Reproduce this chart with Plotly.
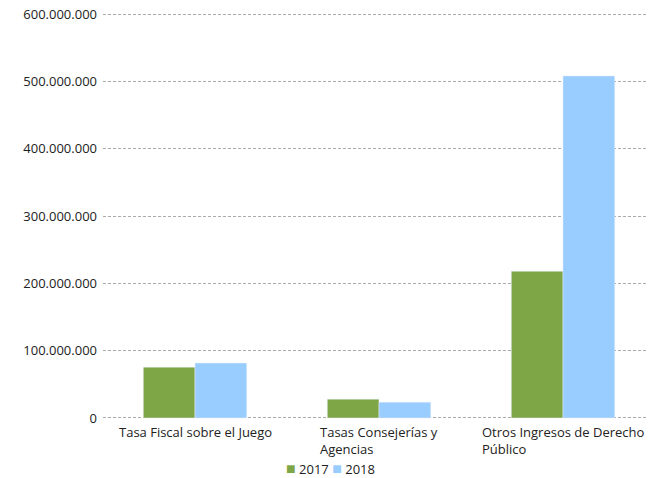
import plotly.graph_objects as go

# Categories and values
categories = ["Tasa Fiscal sobre el Juego", "Tasas Consejerías y Agencias", "Otros Ingresos de Derecho Público"]
category_labels = ["Tasa Fiscal sobre el Juego", "Tasas Consejerías y<br>Agencias", "Otros Ingresos de Derecho<br>Público"]
series_names = ["2017", "2018"]
series_colors = ["#7EA647", "#99CCFF"]
values_2017 = [75_500_000, 28_000_000, 218_000_000]
values_2018 = [81_500_000, 23_500_000, 508_000_000]
tick_vals = [0, 100_000_000, 200_000_000, 300_000_000, 400_000_000, 500_000_000, 600_000_000]
tick_text = ["0", "100.000.000", "200.000.000", "300.000.000", "400.000.000", "500.000.000", "600.000.000"]

font_family = "Open Sans, Lato, sans-serif"
text_color = "#222222"

fig = go.Figure()
for name, color, vals in zip(series_names, series_colors, [values_2017, values_2018]):
    fig.add_trace(go.Bar(x=categories, y=vals, name=name, marker=dict(color=color), showlegend=False))

# Category labels as annotations so wrapped lines stay left aligned
for cat, label in zip(categories, category_labels):
    fig.add_annotation(
        x=cat, y=0, xref="x", yref="paper", yanchor="top", xanchor="center",
        yshift=-1, text=label, showarrow=False, align="left",
        font=dict(size=13, color=text_color, family=font_family),
    )

# Compact legend, the same way the original draws it (small square + name)
legend_text = " ".join(
    f"<span style='color:{c};font-size:16px'>■</span> {n}" for n, c in zip(series_names, series_colors)
)
fig.add_annotation(
    x=0.418, y=0, xref="paper", yref="paper", xanchor="center", yanchor="middle",
    yshift=-48, text=legend_text, showarrow=False,
    font=dict(size=13, color=text_color, family=font_family),
)

fig.update_layout(
    width=648, height=478,
    margin=dict(l=103, r=0, t=12, b=58),
    plot_bgcolor="white", paper_bgcolor="white",
    barmode="group", bargap=0.438, bargroupgap=0,
    font=dict(family=font_family, size=13, color=text_color),
    showlegend=False,
)
fig.update_xaxes(
    range=[-0.5, 2.462], showticklabels=False, showgrid=False,
    showline=False, zeroline=False, ticks="",
)
# a little padding on the range so the 0 and 600M grid lines are not clipped
fig.update_yaxes(
    range=[-3_000_000, 603_000_000], tickvals=tick_vals, ticktext=tick_text,
    showgrid=True, gridcolor="#ABABAB", griddash="3px,2px", gridwidth=1,
    zeroline=False, showline=False, ticks="", ticklabelstandoff=5,
)

# drop the default 8px page margin so the figure fills the window
fig.write_html(
    "out.html",
    config={"displayModeBar": False},
    post_script="document.body.style.margin='0';",
)
